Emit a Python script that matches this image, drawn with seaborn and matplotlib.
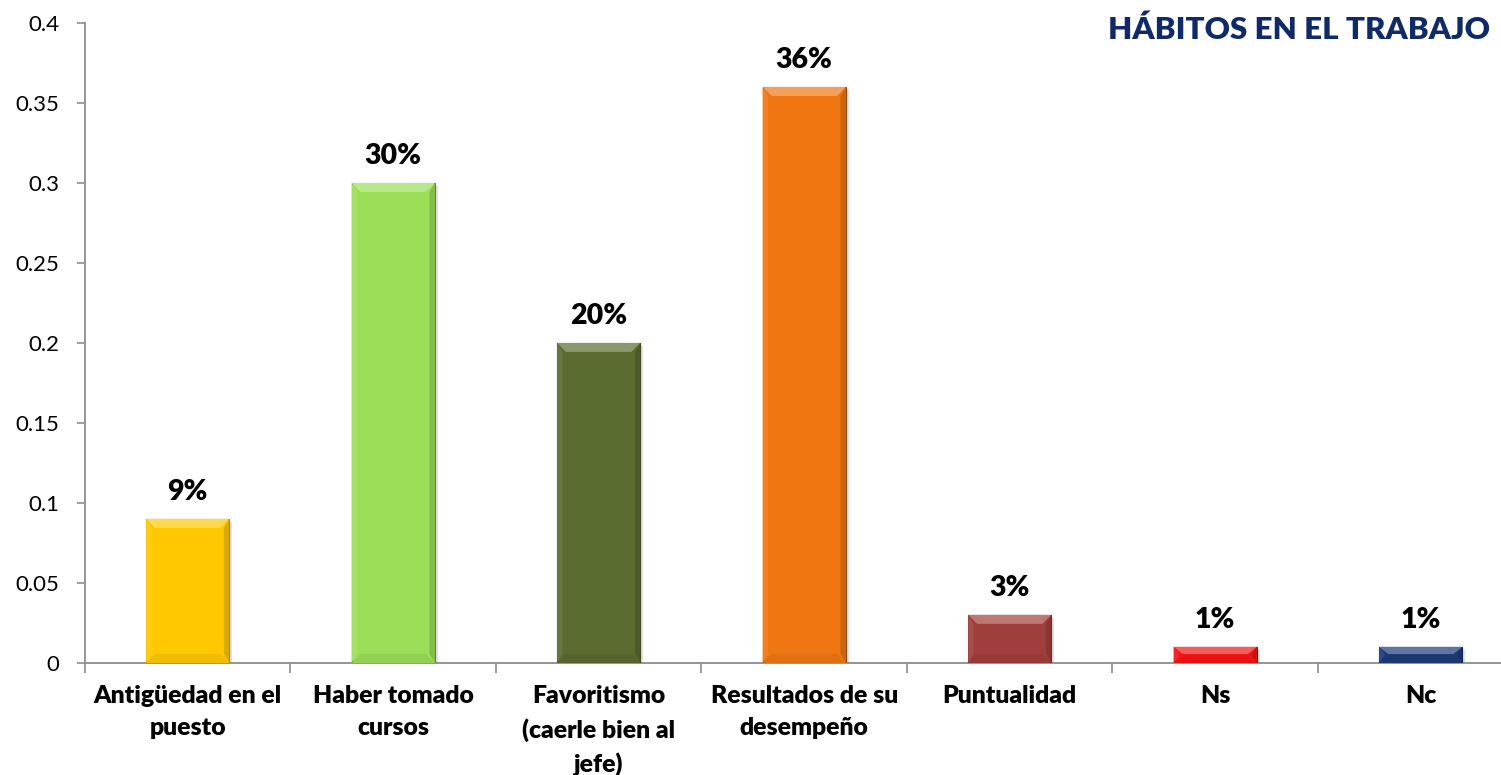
import matplotlib
matplotlib.use("Agg")
import matplotlib.pyplot as plt
from matplotlib.patches import Polygon
from matplotlib.colors import to_rgb
import numpy as np
import pandas as pd
import seaborn as sns

categories = ["Antigüedad en el\npuesto", "Haber tomado\ncursos", "Favoritismo\n(caerle bien al\njefe)",
              "Resultados de su\ndesempeño", "Puntualidad", "Ns", "Nc"]
values = [0.09, 0.30, 0.20, 0.36, 0.03, 0.01, 0.01]
labels = ["9%", "30%", "20%", "36%", "3%", "1%", "1%"]
colors = ["#FFC800", "#9BDE58", "#5A6B30", "#F07612", "#A03E3C", "#F41414", "#1C3A78"]
yticks = [0, 0.05, 0.1, 0.15, 0.2, 0.25, 0.3, 0.35, 0.4]
title = "HÁBITOS EN EL TRABAJO"

sns.set_theme(style="white")
plt.rcParams["font.family"] = ["Lato", "DejaVu Sans"]

fig = plt.figure(figsize=(15.01, 7.75), dpi=100)
# plot area runs on past the right edge of the canvas
ax = fig.add_axes([0.0566, 0.1447, 0.9584, 0.8256])

df = pd.DataFrame({"cat": categories, "val": values})
sns.barplot(data=df, x="cat", y="val", hue="cat", palette=colors, legend=False,
            width=0.405, saturation=1, ax=ax, zorder=3)

ax.set_ylim(0, 0.4)
ax.set_xlim(-0.5, len(categories) - 0.5)
ax.set_yticks(yticks)
ax.set_yticklabels([f"{t:g}" for t in yticks])
ax.set_xlabel("")
ax.set_ylabel("")

# bevel decoration on each bar, sized in pixels
fig.canvas.draw()
px_x = 1.0 / (ax.transData.transform((1, 0))[0] - ax.transData.transform((0, 0))[0])
px_y = 1.0 / (ax.transData.transform((0, 1))[1] - ax.transData.transform((0, 0))[1])


def shade(c, f):
    r, g, b = to_rgb(c)
    if f > 0:
        return (r + (1 - r) * f, g + (1 - g) * f, b + (1 - b) * f)
    return (r * (1 + f), g * (1 + f), b * (1 + f))


for p, col in zip(ax.patches, colors):
    x0, w, h = p.get_x(), p.get_width(), p.get_height()
    x1 = x0 + w
    p.set_edgecolor(shade(col, -0.4))
    p.set_linewidth(0.8)
    bx, by = 9 * px_x, 9 * px_y
    by = min(by, h * 0.45)
    # soft shadow
    ax.add_patch(Polygon([(x0 + 2 * px_x, 0), (x1 + 3 * px_x, 0), (x1 + 3 * px_x, h - 3 * px_y),
                          (x0 + 2 * px_x, h - 3 * px_y)], closed=True, color=(0, 0, 0, 0.12),
                         lw=0, zorder=2))
    ax.add_patch(Polygon([(x0, h), (x1, h), (x1 - bx, h - by), (x0 + bx, h - by)],
                         closed=True, color=shade(col, 0.3), lw=0, zorder=4))
    ax.add_patch(Polygon([(x0, 0), (x1, 0), (x1 - bx, by), (x0 + bx, by)],
                         closed=True, color=shade(col, -0.06), lw=0, zorder=4))
    ax.add_patch(Polygon([(x0, 0), (x0, h), (x0 + bx * 0.6, h - by), (x0 + bx * 0.6, by)],
                         closed=True, color=shade(col, 0.08), lw=0, zorder=4))
    ax.add_patch(Polygon([(x1, 0), (x1, h), (x1 - bx * 0.6, h - by), (x1 - bx * 0.6, by)],
                         closed=True, color=shade(col, -0.15), lw=0, zorder=4))

for i, (v, lab) in enumerate(zip(values, labels)):
    ax.annotate(lab, (i, v), xytext=(0, 10), textcoords="offset points", ha="center",
                va="bottom", fontsize=20.5, fontweight="heavy", color="black", zorder=5)

for s in ["top", "right"]:
    ax.spines[s].set_visible(False)
for s in ["left", "bottom"]:
    ax.spines[s].set_color("#8C8C8C")
    ax.spines[s].set_linewidth(1.3)

ax.tick_params(axis="y", which="major", direction="out", length=6, width=1.2, color="#8C8C8C",
               labelsize=16, labelcolor="black", left=True, pad=12.5)
ax.set_xticks(np.arange(-0.5, len(categories), 1.0), minor=True)
ax.tick_params(axis="x", which="minor", direction="out", length=7, width=1.2, color="#8C8C8C",
               bottom=True)
ax.tick_params(axis="x", which="major", length=0, labelsize=17.8, labelcolor="black", pad=16)
for t in ax.get_xticklabels():
    t.set_fontweight("heavy")
    t.set_linespacing(1.55)

fig.text(0.993, 0.962, title, ha="right", va="center", fontsize=22.5, fontweight="heavy",
         color="#0F2A66")

fig.savefig("out.png", dpi=100)
